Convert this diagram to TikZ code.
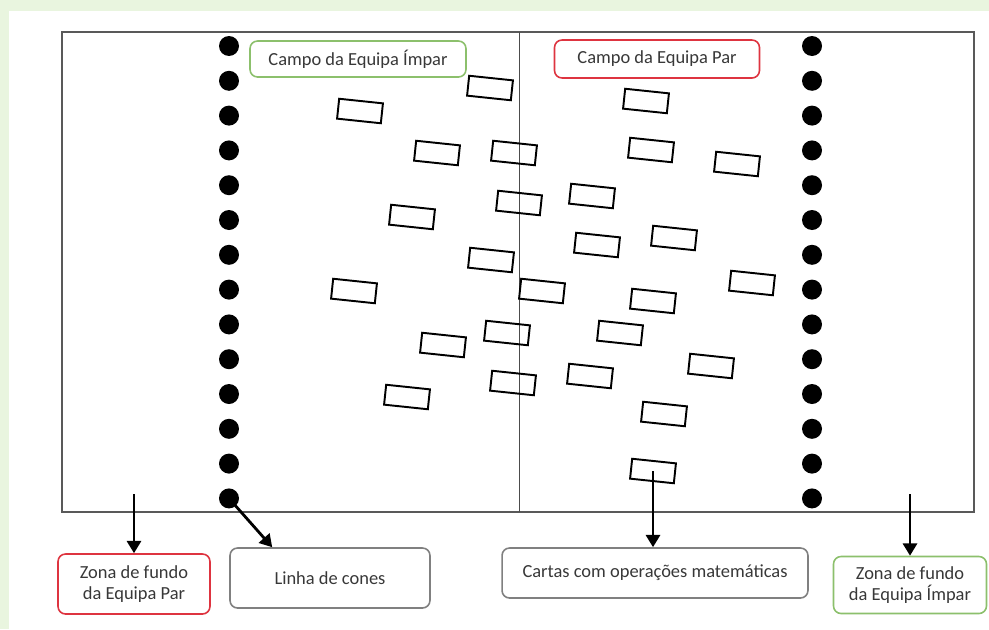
\documentclass[tikz,border=0pt]{standalone}
\usepackage{fontspec}
\setmainfont{Carlito}
\usetikzlibrary{arrows.meta}
\definecolor{bggreen}{HTML}{E9F5DF}
\definecolor{boxgreen}{HTML}{8CC06C}
\definecolor{boxred}{HTML}{DE3440}
\definecolor{boxgray}{HTML}{808080}
\definecolor{textgray}{HTML}{383838}
\tikzset{
  card/.style={draw, line width=1.1pt, rectangle, minimum width=0.88cm, minimum height=0.4cm, inner sep=0pt, rotate=-6},
  cone/.style={fill=black, circle, minimum size=0.4cm, inner sep=0pt},
  label box/.style={draw=boxgray, line width=0.9pt, rectangle, rounded corners=0.15cm, align=center, text=textgray, font=\fontsize{10.5}{12}\selectfont},
  pointer/.style={-{Triangle[length=7pt, width=8pt]}, line width=1.6pt}
}
\begin{document}
\begin{tikzpicture}[x=0.02cm, y=-0.02cm]
\useasboundingbox (0,0) rectangle (989,629);
\fill[bggreen] (0,0) rectangle (989,629);
\fill[white] (9,11) rectangle (989,629);
% field and middle line
\draw[black!65, line width=1pt] (62,32) rectangle (974,512);
\draw[black!70, line width=0.5pt] (519,32) -- (519,512);
% cones
\foreach \i in {0,...,13} {
  \node[cone] (l\i) at (229,{46+34.8*\i}) {};
  \node[cone] (r\i) at (812,{46+34.8*\i}) {};
}
% cards
\foreach \x/\y [count=\i] in {490/88, 360/111, 646/101, 437/153, 514/153, 651/150, 737/164,
    592/196, 519/203, 412/217, 597/245, 674/238, 491/260, 354/291, 542/291, 653/301, 752/283,
    507/333, 620/333, 443/345, 513/383, 590/376, 711/366, 407/397, 664/414, 653/471}
  \node[card] (c\i) at (\x,\y) {};
% labels
\node[label box, draw=boxgreen, minimum width=4.32cm, minimum height=0.72cm] (campoimpar) at (358,59) {Campo da Equipa Ímpar};
\node[label box, draw=boxred, minimum width=4.1cm, minimum height=0.76cm] (campopar) at (657,59) {Campo da Equipa Par};
\node[label box, draw=boxred, minimum width=3.04cm, minimum height=1.2cm] (zonapar) at (134,584) {Zona de fundo\\da Equipa Par};
\node[label box, minimum width=4.0cm, minimum height=1.2cm] (linha) at (330,578) {Linha de cones};
\node[label box, minimum width=6.12cm, minimum height=1.0cm] (cartas) at (655,573) {Cartas com operações matemáticas};
\node[label box, draw=boxgreen, minimum width=3.06cm, minimum height=1.14cm] (zonaimpar) at (910,585) {Zona de fundo\\da Equipa Ímpar};
% arrows
\coordinate (fundopar) at (134,494);
\coordinate (fundoimpar) at (910,494);
\draw[pointer] (fundopar) -- (zonapar.north);
\draw[pointer] (l13.center) -- ([xshift=0.86cm]linha.north west);
\draw[pointer] (c26.center) -- (c26.center |- cartas.north);
\draw[pointer] (fundoimpar) -- (zonaimpar.north);
\end{tikzpicture}
\end{document}
